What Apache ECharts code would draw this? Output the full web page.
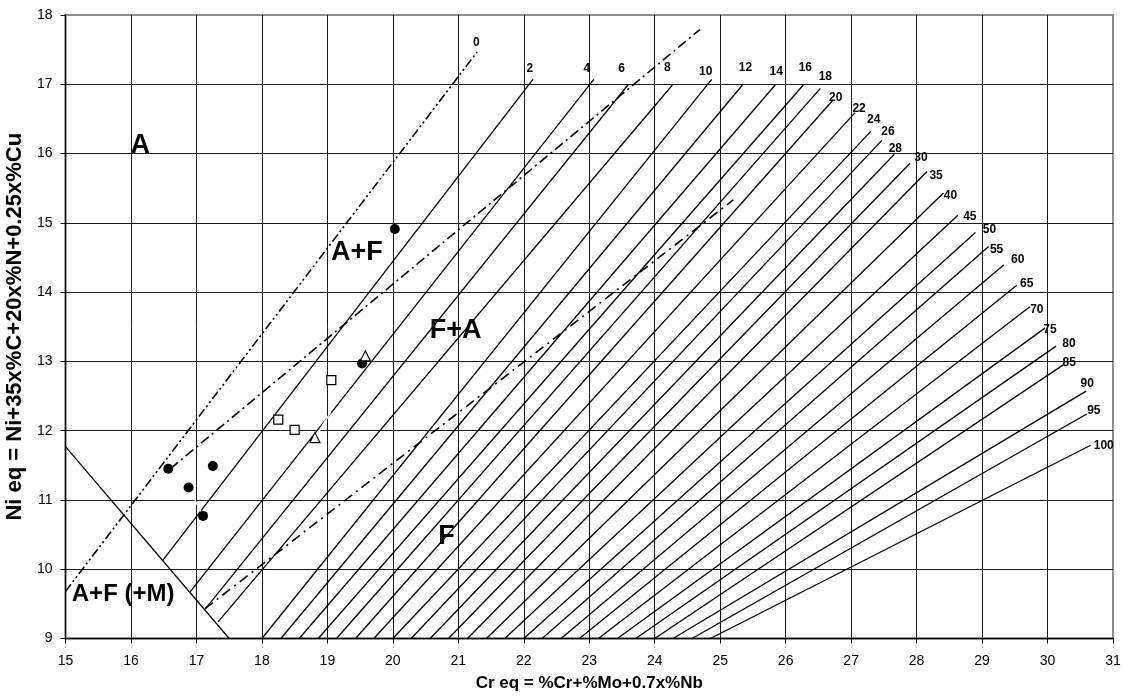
<!DOCTYPE html>
<html>
<head>
<meta charset="utf-8">
<script src="https://cdn.jsdelivr.net/npm/echarts@6/dist/echarts.min.js"></script>
<style>
html, body { margin: 0; padding: 0; background: #fff; }
#chart { width: 1125px; height: 696px; }
</style>
</head>
<body>
<div id="chart"></div>
<script>
// WRC-1992 diagram: iso-FN lines, phase boundaries, measured points
var FN_NAMES = ['2', '4', '6', '8', '10', '12', '14', '16', '18', '20', '22', '24', '26', '28', '30',
    '35', '40', '45', '50', '55', '60', '65', '70', '75', '80', '85', '90', '95', '100'];
var FN_X0 = [16.48, 16.90, 17.13, 17.33, 18.00, 18.29, 18.57, 18.86, 19.14, 19.43, 19.71, 20.00, 20.28, 20.57, 20.85,
    21.14, 21.43, 21.71, 22.00, 22.28, 22.57, 22.85, 23.14, 23.43, 23.71, 24.00, 24.28, 24.57, 24.85];
var FN_Y0 = [10.12, 9.67, 9.42, 9.24, 9, 9, 9, 9, 9, 9, 9, 9, 9, 9, 9,
    9, 9, 9, 9, 9, 9, 9, 9, 9, 9, 9, 9, 9, 9];
var FN_X1 = [22.14, 23.07, 23.60, 24.27, 24.87, 25.34, 25.84, 26.27, 26.53, 26.72, 27.06, 27.30, 27.47, 27.66, 27.90,
    28.16, 28.41, 28.63, 28.90, 29.10, 29.33, 29.53, 29.73, 29.96, 30.13, 30.24, 30.59, 30.60, 30.66];
var FN_Y1 = [17.07, 17.07, 17.00, 16.99, 17.07, 16.99, 16.99, 16.99, 16.94, 16.77, 16.59, 16.32, 16.19, 15.99, 15.86,
    15.74, 15.43, 15.11, 14.86, 14.66, 14.39, 14.10, 13.79, 13.48, 13.22, 12.95, 12.57, 12.24, 11.79];

// FN 0 line and the two other dash-dot boundaries
var FN0_LINE = [[15.00, 9.68], [21.29, 17.47]];
var AF_LINE = [[16.60, 11.45], [24.69, 17.79]];
var FA_LINE = [[17.13, 9.43], [25.20, 15.33]];
// martensite limit
var M_LINE = [[15.00, 11.77], [17.50, 9.00]];

var CIRCLES = [[16.57, 11.45], [16.88, 11.18], [17.10, 10.77], [17.25, 11.49], [19.53, 12.97], [20.03, 14.91]];
var SQUARES = [[18.25, 12.16], [18.50, 12.01], [19.06, 12.73]];
var TRIANGLES = [[18.81, 11.90], [19.58, 13.08]];
var WHITE_LINKS = [
    [[19.06, 12.73], [19.04, 12.25], [18.81, 11.90]],
    [[17.10, 10.77], [16.88, 11.18]]
];

var X_TICKS = [15, 31, 1];
var Y_TICKS = [9, 18, 1];

var FONT = '"Liberation Sans", Arial, sans-serif';

// label offsets (px) from each line's upper end, 0 first
var LABEL_OFFSET = [[-1, -9], [-3, -11], [-7, -11], [-7, -16], [-5, -17], [-6, -8], [3, -17], [1, -13], [2, -17],
    [5, -12], [3, -3], [4, -4], [3, -12], [6, -9], [1, -6], [11, -6], [9, 4], [7, 3], [12, 1], [14, -3],
    [8, 3], [14, -5], [10, -1], [7, 3], [5, 2], [13, -2], [6, -2], [1, -7], [7, -3], [13, 0]];

function plainLine(data, extra) {
    var s = {
        type: 'line',
        data: data,
        symbol: 'none',
        silent: true,
        lineStyle: {color: '#000', width: 1.3},
        z: 3
    };
    for (var k in extra) s[k] = extra[k];
    return s;
}

// scatter used only to carry text
function textSeries(data, fontSize, z) {
    return {
        type: 'scatter', data: data, symbolSize: 0, silent: true, z: z,
        itemStyle: {opacity: 1, color: '#000'},
        label: {
            show: true, position: 'inside', formatter: '{b}',
            fontFamily: FONT, fontSize: fontSize, fontWeight: 'bold',
            color: '#000', opacity: 1, textBorderWidth: 0
        }
    };
}

function getSeries() {
    var series = [];
    FN_NAMES.forEach(function(name, i) {
        series.push(plainLine([[FN_X0[i], FN_Y0[i]], [FN_X1[i], FN_Y1[i]]]));
    });
    series.push(plainLine(M_LINE));
    series.push(plainLine(FN0_LINE, {lineStyle: {color: '#000', width: 1.6, type: [9, 3, 2, 3, 2, 3]}}));
    series.push(plainLine(AF_LINE, {lineStyle: {color: '#000', width: 1.6, type: [10, 4, 2, 4]}}));
    series.push(plainLine(FA_LINE, {lineStyle: {color: '#000', width: 1.6, type: [10, 5, 2, 5]}}));
    WHITE_LINKS.forEach(function(link) {
        series.push(plainLine(link, {lineStyle: {color: '#fff', width: 1.5}, z: 4}));
    });

    series.push({
        type: 'scatter', data: CIRCLES, symbol: 'circle', symbolSize: 10, silent: true, z: 6,
        itemStyle: {color: '#000', opacity: 1}
    });
    series.push({
        type: 'scatter', data: SQUARES, symbol: 'rect', symbolSize: 9, silent: true, z: 6,
        itemStyle: {color: '#fff', borderColor: '#000', borderWidth: 1.2, opacity: 1}
    });
    series.push({
        type: 'scatter', data: TRIANGLES, symbol: 'triangle', symbolSize: 10, silent: true, z: 6,
        itemStyle: {color: '#fff', borderColor: '#000', borderWidth: 1.2, opacity: 1}
    });

    // FN numbers at the upper ends
    var ends = [{value: FN0_LINE[1], name: '0'}];
    FN_NAMES.forEach(function(name, i) {
        ends.push({value: [FN_X1[i], FN_Y1[i]], name: name});
    });
    ends.forEach(function(d, i) {
        d.label = {offset: LABEL_OFFSET[i]};
    });
    series.push(textSeries(ends, 12, 7));

    // region names
    var regions = [
        {value: [16.14, 16.11], name: 'A', size: 27},
        {value: [19.45, 14.57], name: 'A+F', size: 27},
        {value: [20.96, 13.45], name: 'F+A', size: 27},
        {value: [20.82, 10.47], name: 'F', size: 27},
        {value: [15.88, 9.64], name: 'A+F (+M)', size: 24}
    ];
    series.push(textSeries(regions.map(function(r) {
        return {value: r.value, name: r.name, label: {fontSize: r.size}};
    }), 27, 8));
    return series;
}

function valueAxis(ticks, name, extra) {
    var axis = {
        type: 'value',
        min: ticks[0],
        max: ticks[1],
        interval: ticks[2],
        name: name,
        nameLocation: 'middle',
        nameTextStyle: {fontFamily: FONT, fontSize: 16, fontWeight: 'bold', color: '#000'},
        axisLine: {show: true, lineStyle: {color: '#000', width: 1.3}},
        axisTick: {show: true, length: 5, lineStyle: {color: '#000', width: 1}},
        axisLabel: {fontFamily: FONT, fontSize: 14, color: '#000'},
        splitLine: {show: true, showMinLine: false, showMaxLine: false, lineStyle: {color: '#1a1a1a', width: 1}}
    };
    for (var k in extra) {
        if (k === 'labelMargin') axis.axisLabel.margin = extra[k];
        else if (k === 'nameSize') axis.nameTextStyle.fontSize = extra[k];
        else axis[k] = extra[k];
    }
    return axis;
}

var chart = echarts.init(document.getElementById('chart'), null, {renderer: 'canvas'});
chart.setOption({
    animation: false,
    backgroundColor: '#fff',
    grid: {
        left: 65.5, right: 12, top: 15, bottom: 57.5,
        containLabel: false,
        outerBoundsMode: 'none',
        show: true, borderColor: '#8c8c8c', borderWidth: 2, backgroundColor: 'transparent'
    },
    xAxis: valueAxis(X_TICKS, 'Cr eq = %Cr+%Mo+0.7x%Nb', {nameGap: 36, labelMargin: 16, nameSize: 17}),
    yAxis: valueAxis(Y_TICKS, 'Ni eq = Ni+35x%C+20x%N+0.25x%Cu', {nameGap: 37, labelMargin: 13, nameSize: 22}),
    series: getSeries()
});
</script>
</body>
</html>
